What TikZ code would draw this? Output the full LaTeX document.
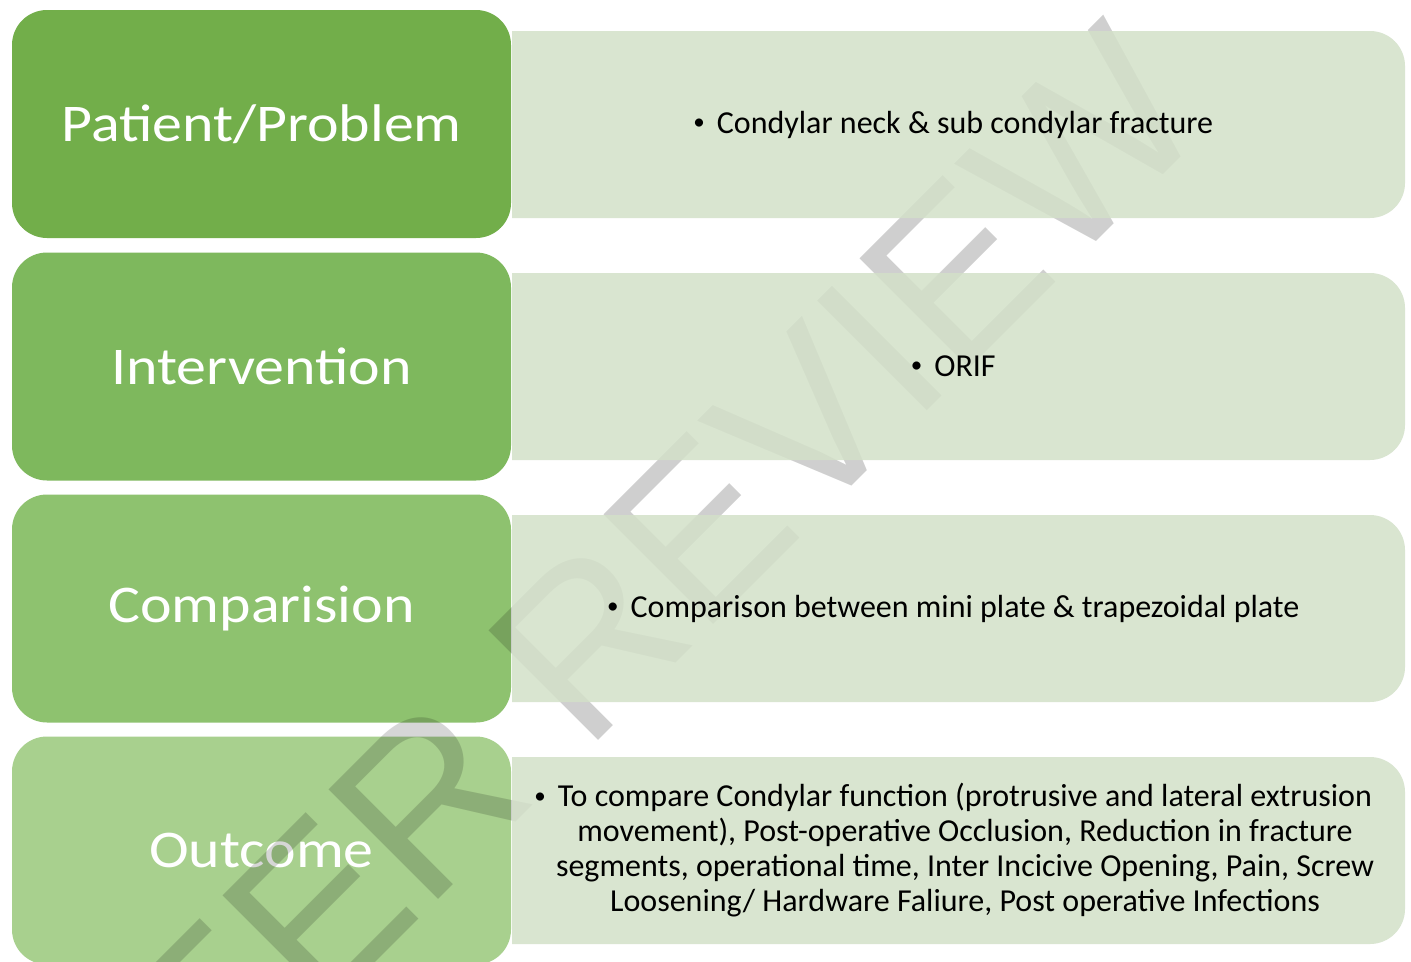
\documentclass[tikz,border=0pt]{standalone}
\usepackage{fontspec}
\setmainfont{Carlito}
\newfontfamily\titlefont[FakeStretch=1.13]{Carlito}
\newfontfamily\wmfont{Liberation Sans}
\definecolor{cA}{RGB}{114,174,74}
\definecolor{cB}{RGB}{126,184,93}
\definecolor{cC}{RGB}{142,194,111}
\definecolor{cD}{RGB}{168,208,142}
\definecolor{cL}{RGB}{217,229,208}
\tikzset{
  darkbox/.style={draw=none, rounded corners=26.25pt, minimum width=374.25pt, minimum height=171pt,
    inner sep=0pt, text=white, font=\titlefont\fontsize{39.75}{44}\selectfont},
  bodytext/.style={align=center, text=black, inner sep=0pt, font=\fontsize{24}{26.25}\selectfont},
  lightbox/.style={fill=cL, rounded corners=26.25pt},
  watermark/.style={rotate=45, anchor=base east, inner sep=0pt, text=black,
    font=\wmfont\fontsize{169}{169}\selectfont}
}
\newcommand{\bul}{\llap{\raisebox{0.12em}{\scalebox{0.72}{•}}\hspace{9pt}}}
\begin{document}
\begin{tikzpicture}[x=0.75pt,y=-0.75pt]
\useasboundingbox (0,0) rectangle (1411,961);
\fill[white] (0,0) rectangle (1411,961);
% left boxes
\node[darkbox, fill=cA] (p1) at (261.5,124) {Patient/Problem};
\node[darkbox, fill=cB] (p2) at (261.5,366.5) {Intervention};
\node[darkbox, fill=cC] (p3) at (261.5,608.5) {Comparision};
\node[darkbox, fill=cD] (p4) at (261.5,850.5) {Outcome};
% watermark over dark boxes
\node[watermark, opacity=0.16] (wm) at (1214,124) {UNDER PEER REVIEW};
% right boxes
\begin{scope}
\clip (512,0) rectangle (1411,961);
\fill[lightbox] (450,31) rectangle (1405,218);
\fill[lightbox] (450,273) rectangle (1405,460);
\fill[lightbox] (450,515) rectangle (1405,702);
\fill[lightbox] (450,757) rectangle (1405,944);
\node[watermark, opacity=0.03] (wm2) at (1214,124) {UNDER PEER REVIEW};
\end{scope}
% texts
\node[bodytext] (d1) at (965,124.5) {\bul Condylar neck \& sub condylar fracture};
\node[bodytext] (d2) at (965,366.5) {\bul ORIF};
\node[bodytext] (d3) at (965,608.5) {\bul Comparison between mini plate \& trapezoidal plate};
\node[bodytext] (d4) at (965,850.5) {\bul To compare Condylar function (protrusive and lateral extrusion\\
movement), Post-operative Occlusion, Reduction in fracture\\
segments, operational time, Inter Incicive Opening, Pain, Screw\\
Loosening/ Hardware Faliure, Post operative Infections};
\end{tikzpicture}
\end{document}
